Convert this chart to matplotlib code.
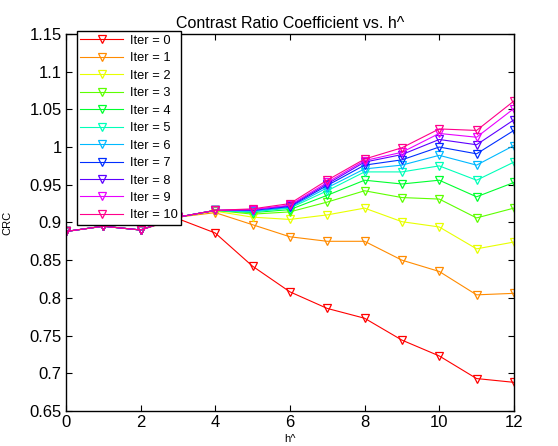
import colorsys
import matplotlib
matplotlib.use("Agg")
import matplotlib.pyplot as plt

plt.rcParams['font.family'] = ['Liberation Sans', 'DejaVu Sans']

h_values = [0, 1, 2, 3, 4, 5, 6, 7, 8, 9, 10, 11, 12]
labels = [f"Iter = {i}" for i in range(11)]

iter0 = [0.888, 0.895, 0.890, 0.905, 0.886, 0.842, 0.808, 0.786, 0.773, 0.744, 0.723, 0.693, 0.688]
iter1 = [0.888, 0.895, 0.890, 0.907, 0.913, 0.897, 0.881, 0.875, 0.875, 0.850, 0.835, 0.804, 0.806]
iter2 = [0.888, 0.895, 0.890, 0.907, 0.915, 0.907, 0.904, 0.910, 0.919, 0.901, 0.894, 0.865, 0.874]
iter3 = [0.888, 0.895, 0.890, 0.907, 0.916, 0.911, 0.914, 0.927, 0.942, 0.933, 0.931, 0.906, 0.919]
iter4 = [0.888, 0.895, 0.890, 0.907, 0.916, 0.913, 0.917, 0.936, 0.956, 0.951, 0.956, 0.934, 0.953]
iter5 = [0.888, 0.895, 0.890, 0.907, 0.916, 0.914, 0.919, 0.942, 0.967, 0.967, 0.975, 0.956, 0.980]
iter6 = [0.888, 0.895, 0.890, 0.907, 0.916, 0.915, 0.920, 0.946, 0.971, 0.976, 0.989, 0.976, 1.002]
iter7 = [0.888, 0.895, 0.890, 0.907, 0.916, 0.916, 0.921, 0.949, 0.976, 0.983, 1.000, 0.991, 1.022]
iter8 = [0.888, 0.895, 0.890, 0.907, 0.916, 0.917, 0.922, 0.951, 0.980, 0.990, 1.010, 1.003, 1.036]
iter9 = [0.888, 0.895, 0.890, 0.907, 0.916, 0.917, 0.923, 0.953, 0.982, 0.993, 1.018, 1.013, 1.051]
iter10 = [0.888, 0.895, 0.890, 0.907, 0.916, 0.918, 0.925, 0.956, 0.984, 0.999, 1.024, 1.022, 1.061]

series = [iter0, iter1, iter2, iter3, iter4, iter5, iter6, iter7, iter8, iter9, iter10]

fig = plt.figure(figsize=(5.58, 4.46), dpi=100)
ax = fig.add_axes([0.118, 0.0785, 0.803, 0.8455])

for i, (ys, lab) in enumerate(zip(series, labels)):
    col = colorsys.hsv_to_rgb(i / 11.0, 1.0, 1.0)
    ax.plot(h_values, ys, color=col, lw=0.8, marker='v', markersize=6,
            markerfacecolor='none', markeredgecolor=col, markeredgewidth=0.9,
            label=lab)

ax.set_xlim(0, 12)
ax.set_ylim(0.65, 1.15)
ax.set_xticks([0, 2, 4, 6, 8, 10, 12])
ax.set_yticks([0.65, 0.7, 0.75, 0.8, 0.85, 0.9, 0.95, 1.0, 1.05, 1.1, 1.15])
ax.set_yticklabels(["0.65", "0.7", "0.75", "0.8", "0.85", "0.9", "0.95", "1", "1.05", "1.1", "1.15"])
ax.tick_params(direction='in', top=True, right=True, labelsize=12, length=4, width=0.8, pad=3)
for s in ax.spines.values():
    s.set_linewidth(1.0)

ax.set_title("Contrast Ratio Coefficient vs. h^", fontsize=11.5, pad=4)
ax.set_xlabel("h^", fontsize=8, labelpad=3)
ax.set_ylabel("CRC", fontsize=8, labelpad=12)

leg = ax.legend(loc='upper left', bbox_to_anchor=(0.024, 1.008), fontsize=9.3,
                frameon=True, fancybox=False, edgecolor='black', framealpha=1,
                handlelength=3.3, labelspacing=0.42, borderpad=0.3, handletextpad=0.5,
                borderaxespad=0)
leg.get_frame().set_linewidth(1.0)

fig.savefig("out.png", dpi=100)
